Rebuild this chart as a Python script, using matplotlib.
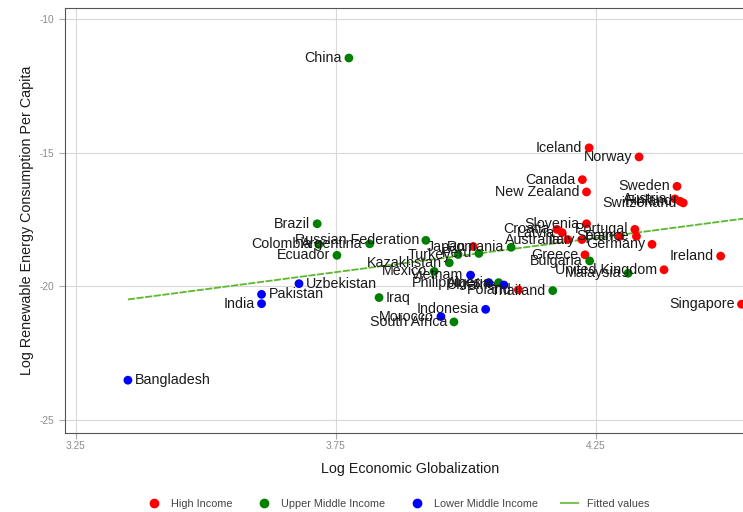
import matplotlib
matplotlib.use('Agg')
from matplotlib import pyplot as plt
from matplotlib.lines import Line2D

plt.rcParams['font.family'] = ['Liberation Sans', 'DejaVu Sans']

# high income countries: name, log globalization, log renewable energy per capita
high_names = ['Iceland', 'Norway', 'Canada', 'New Zealand', 'Sweden', 'Austria', 'Finland',
              'Switzerland', 'Slovenia', 'Croatia', 'Latvia', 'Australia', 'Italy', 'Spain',
              'Portugal', 'France', 'Germany', 'Greece', 'United Kingdom', 'Ireland',
              'Singapore', 'Japan', 'Poland']
high_x = [4.237, 4.333, 4.224, 4.232, 4.406, 4.402, 4.412, 4.418, 4.232, 4.175, 4.185,
          4.196, 4.223, 4.296, 4.325, 4.328, 4.358, 4.229, 4.381, 4.490, 4.530, 4.014, 4.101]
high_y = [-14.82, -15.16, -16.01, -16.47, -16.26, -16.73, -16.82, -16.88, -17.66, -17.87,
          -17.99, -18.25, -18.25, -18.13, -17.87, -18.13, -18.43, -18.82, -19.38, -18.87,
          -20.67, -18.51, -20.13]

upper_names = ['China', 'Brazil', 'Colombia', 'Argentina', 'Ecuador', 'Russian Federation',
               'Iraq', 'South Africa', 'Kazakhstan', 'Mexico', 'Turkey', 'Peru', 'Romania',
               'Algeria', 'Thailand', 'Bulgaria', 'Malaysia']
upper_x = [3.775, 3.714, 3.717, 3.815, 3.752, 3.923, 3.833, 3.977, 3.968, 3.939, 3.985,
           4.025, 4.087, 4.063, 4.167, 4.238, 4.312]
upper_y = [-11.46, -17.66, -18.43, -18.41, -18.84, -18.28, -20.42, -21.33, -19.12, -19.44,
           -18.81, -18.77, -18.54, -19.86, -20.16, -19.05, -19.51]

lower_names = ['Bangladesh', 'India', 'Pakistan', 'Uzbekistan', 'Vietnam', 'Philippines',
               'Ukraine', 'Indonesia', 'Morocco']
lower_x = [3.350, 3.607, 3.607, 3.679, 4.009, 4.044, 4.073, 4.038, 3.952]
lower_y = [-23.51, -20.65, -20.30, -19.90, -19.58, -19.86, -19.95, -20.86, -21.13]

# labels drawn to the right of the marker, everything else goes left
right_labels = ['Bangladesh', 'Pakistan', 'Uzbekistan', 'Iraq']

# fitted regression line end points
fit_x = [3.350, 4.533]
fit_y = [-20.49, -17.47]

x_ticks = [3.25, 3.75, 4.25]
y_ticks = [-10, -15, -20, -25]

fig = plt.figure(figsize=(7.43, 5.12), dpi=100)
ax = fig.add_axes([65 / 743, 79 / 512, 690 / 743, 425 / 512])
ax.set_xlim(3.229, 4.556)
ax.set_ylim(-25.485, -9.59)

ax.set_xticks(x_ticks)
ax.set_xticklabels(['3.25', '3.75', '4.25'])
ax.set_yticks(y_ticks)
ax.set_yticklabels(['-10', '-15', '-20', '-25'])
ax.grid(True, color='#d9d9d9', linewidth=0.8)
ax.set_axisbelow(True)
ax.tick_params(colors='#aaaaaa', labelcolor='#8c8c8c', labelsize=7.3, length=4, width=0.8)
ax.tick_params(axis='x', pad=2)
for s in ax.spines.values():
    s.set_color('#555555')
    s.set_linewidth(0.8)

ax.plot(fit_x, fit_y, color='#5cb82e', linewidth=1.3, linestyle=(0, (4, 0.8)), zorder=2)

groups = [(high_names, high_x, high_y, '#ff0000'),
          (upper_names, upper_x, upper_y, '#008000'),
          (lower_names, lower_x, lower_y, '#0000ff')]
for names, xs, ys, c in groups:
    ax.scatter(xs, ys, s=40, color=c, edgecolors='none', zorder=3)
    for n, x, y in zip(names, xs, ys):
        if n in right_labels:
            ax.annotate(n, (x, y), xytext=(5, 0), textcoords='offset points',
                        ha='left', va='center', fontsize=10.3, color='#1a1a1a', zorder=4)
        else:
            ax.annotate(n, (x, y), xytext=(-5, 0), textcoords='offset points',
                        ha='right', va='center', fontsize=10.3, color='#1a1a1a', zorder=4)

ax.set_xlabel('Log Economic Globalization', fontsize=10.3, color='#1a1a1a', labelpad=8)
ax.set_ylabel('Log Renewable Energy Consumption Per Capita', fontsize=10.3, color='#1a1a1a',
              labelpad=4)

handles = [Line2D([], [], marker='o', linestyle='none', color='#ff0000', markersize=6),
           Line2D([], [], marker='o', linestyle='none', color='#008000', markersize=6),
           Line2D([], [], marker='o', linestyle='none', color='#0000ff', markersize=6),
           Line2D([], [], color='#7cc45a', linewidth=1.5)]
fig.legend(handles, ['High Income', 'Upper Middle Income', 'Lower Middle Income', 'Fitted values'],
           loc='center', bbox_to_anchor=(397 / 743, 1 - 504 / 512), ncol=4, frameon=False,
           fontsize=7.8, labelcolor='#444444', handlelength=1.6, handletextpad=0.8,
           columnspacing=2.1)

fig.savefig('out.png', dpi=100)
